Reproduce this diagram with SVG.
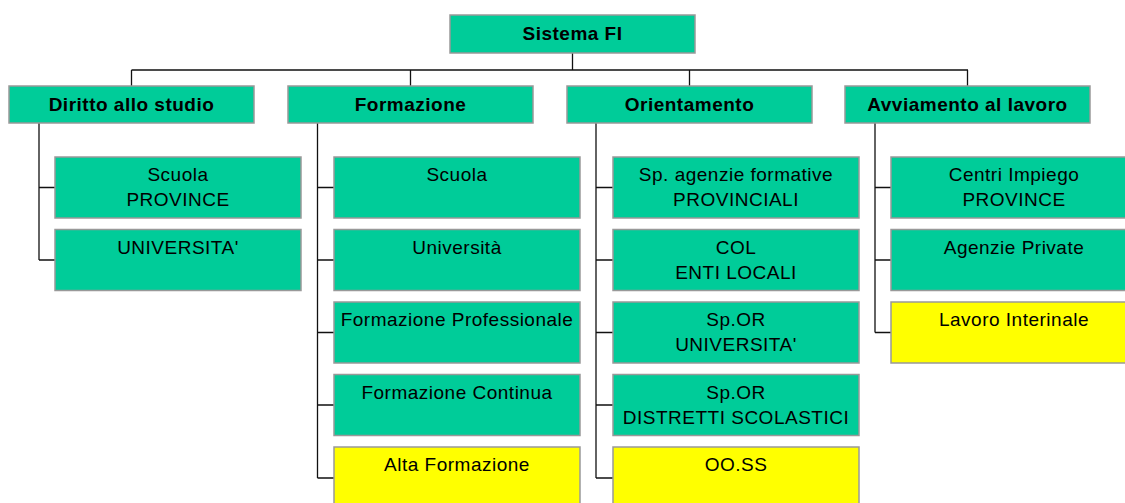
<svg xmlns="http://www.w3.org/2000/svg" width="1125" height="503" viewBox="0 0 1125 503">
<style>
.g{fill:#00CC99;stroke:#999999;stroke-width:1.5}
.y{fill:#FFFF00;stroke:#999999;stroke-width:1.5}
.h{font-family:"Liberation Sans",Arial,sans-serif;font-size:19px;font-weight:bold;letter-spacing:0.5px;fill:#000;text-anchor:middle}
.t{font-family:"Liberation Sans",Arial,sans-serif;font-size:19px;letter-spacing:0.5px;fill:#000;text-anchor:middle}
.c{fill:none;stroke:#111;stroke-width:1.3}
</style>
<rect width="1125" height="503" fill="#ffffff"/>
<g id="connectors" class="c">
<path d="M572.5 53V70M131.5 70H968M131.5 70V86M410.5 70V86M689.5 70V86M967.5 70V86"/>
<path d="M39 123V260M39 187.5H55M39 260H55"/>
<path d="M317.5 123V478M317.5 187.5H334M317.5 260H334M317.5 332.5H334M317.5 405H334M317.5 478H334"/>
<path d="M596 123V478M596 187.5H613M596 260H613M596 332.5H613M596 405H613M596 478H613"/>
<path d="M875 123V332.5M875 187.5H891M875 260H891M875 332.5H891"/>
</g>
<g id="root"><rect class="g" x="450" y="15" width="245" height="38"/><text class="h" x="572.5" y="40">Sistema FI</text></g>
<g id="diritto"><rect class="g" x="9" y="86" width="245" height="37"/><text class="h" x="131.5" y="111">Diritto allo studio</text></g>
<g id="formazione"><rect class="g" x="288" y="86" width="245" height="37"/><text class="h" x="410.5" y="111">Formazione</text></g>
<g id="orientamento"><rect class="g" x="567" y="86" width="245" height="37"/><text class="h" x="689.5" y="111">Orientamento</text></g>
<g id="avviamento"><rect class="g" x="845" y="86" width="245" height="37"/><text class="h" x="967.5" y="111">Avviamento al lavoro</text></g>

<g id="d-scuola"><rect class="g" x="55" y="157" width="246" height="61"/><text class="t" x="178" y="181">Scuola</text><text class="t" x="178" y="206">PROVINCE</text></g>
<g id="d-univ"><rect class="g" x="55" y="229.5" width="246" height="61"/><text class="t" x="178" y="253.5">UNIVERSITA'</text></g>

<g id="f-scuola"><rect class="g" x="334" y="157" width="246" height="61"/><text class="t" x="457" y="181">Scuola</text></g>
<g id="f-univ"><rect class="g" x="334" y="229.5" width="246" height="61"/><text class="t" x="457" y="253.5">Università</text></g>
<g id="f-prof"><rect class="g" x="334" y="302" width="246" height="61"/><text class="t" x="457" y="326">Formazione Professionale</text></g>
<g id="f-cont"><rect class="g" x="334" y="374.5" width="246" height="61"/><text class="t" x="457" y="398.5">Formazione Continua</text></g>
<g id="f-alta"><rect class="y" x="334" y="447" width="246" height="61"/><text class="t" x="457" y="471">Alta Formazione</text></g>

<g id="o-agenzie"><rect class="g" x="613" y="157" width="246" height="61"/><text class="t" x="736" y="181">Sp. agenzie formative</text><text class="t" x="736" y="206">PROVINCIALI</text></g>
<g id="o-col"><rect class="g" x="613" y="229.5" width="246" height="61"/><text class="t" x="736" y="253.5">COL</text><text class="t" x="736" y="278.5">ENTI LOCALI</text></g>
<g id="o-univ"><rect class="g" x="613" y="302" width="246" height="61"/><text class="t" x="736" y="326">Sp.OR</text><text class="t" x="736" y="351">UNIVERSITA'</text></g>
<g id="o-distr"><rect class="g" x="613" y="374.5" width="246" height="61"/><text class="t" x="736" y="398.5">Sp.OR</text><text class="t" x="736" y="423.5">DISTRETTI SCOLASTICI</text></g>
<g id="o-ooss"><rect class="y" x="613" y="447" width="246" height="61"/><text class="t" x="736" y="471">OO.SS</text></g>

<g id="a-centri"><rect class="g" x="891" y="157" width="246" height="61"/><text class="t" x="1014" y="181">Centri Impiego</text><text class="t" x="1014" y="206">PROVINCE</text></g>
<g id="a-agenzie"><rect class="g" x="891" y="229.5" width="246" height="61"/><text class="t" x="1014" y="253.5">Agenzie Private</text></g>
<g id="a-interinale"><rect class="y" x="891" y="302" width="246" height="61"/><text class="t" x="1014" y="326">Lavoro Interinale</text></g>
</svg>
